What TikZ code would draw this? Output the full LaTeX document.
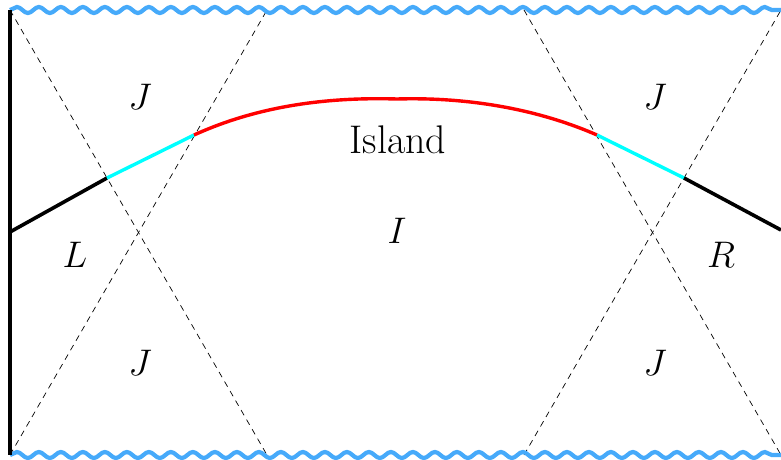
\documentclass[tikz,border=0pt]{standalone}
\usepackage{fix-cm}
\usetikzlibrary{decorations.pathmorphing}
\definecolor{wavyblue}{RGB}{70,170,250}
\definecolor{brightcyan}{RGB}{0,255,255}
\begin{document}
\begin{tikzpicture}[x=1pt,y=-1pt,
  wavy/.style={wavyblue,line width=4.2pt,decorate,decoration={snake,amplitude=3pt,segment length=22pt}},
  light/.style={line width=0.7pt,dash pattern=on 6pt off 5pt},
  bdry/.style={line width=3.6pt,black},
  cyanseg/.style={line width=3.4pt,brightcyan},
  redseg/.style={line width=3.4pt,red},
  lbl/.style={font=\fontsize{37}{44}\selectfont,inner sep=0pt},
  txtlbl/.style={font=\fontsize{40}{48}\selectfont,inner sep=0pt}]
\useasboundingbox (0,0) rectangle (781,460);
% corners
\coordinate (tl) at (10,10);
\coordinate (bl) at (10,455);
\coordinate (tr) at (781,10);
\coordinate (br) at (781,455);
\coordinate (t1) at (267,10);
\coordinate (b1) at (267,455);
\coordinate (t2) at (524,10);
\coordinate (b2) at (524,455);
\coordinate (lm) at (10,232);
\coordinate (pa) at (107,178);
\coordinate (pb) at (194,135);
\coordinate (pm) at (397,99);
\coordinate (pc) at (597,135);
\coordinate (pd) at (684,178);
\coordinate (re) at (781,230);
% light rays
\draw[light] (tl) -- (b1);
\draw[light] (bl) -- (t1);
\draw[light] (t2) -- (br);
\draw[light] (b2) -- (tr);
% singular boundaries
\draw[wavy] (tl) -- (tr);
\draw[wavy] (bl) -- (br);
% boundary and slices
\draw[bdry] (tl) -- (bl);
\draw[bdry] (lm) -- (pa);
\draw[cyanseg] (pa) -- (pb);
\draw[redseg] (pb) .. controls (260,105) and (330,97) .. (pm) .. controls (465,97) and (535,108) .. (pc);
\draw[cyanseg] (pc) -- (pd);
\draw[bdry] (pd) -- (re);
% labels
\node[lbl] (j1) at (140,97) {$J$};
\node[lbl] (j2) at (655,97) {$J$};
\node[lbl] (j3) at (140,363) {$J$};
\node[lbl] (j4) at (655,363) {$J$};
\node[txtlbl] (isl) at (398,140) {Island};
\node[lbl] (ii) at (397,231) {$I$};
\node[lbl] (ll) at (75,255) {$L$};
\node[lbl] (rr) at (721,255) {$R$};
\end{tikzpicture}
\end{document}
